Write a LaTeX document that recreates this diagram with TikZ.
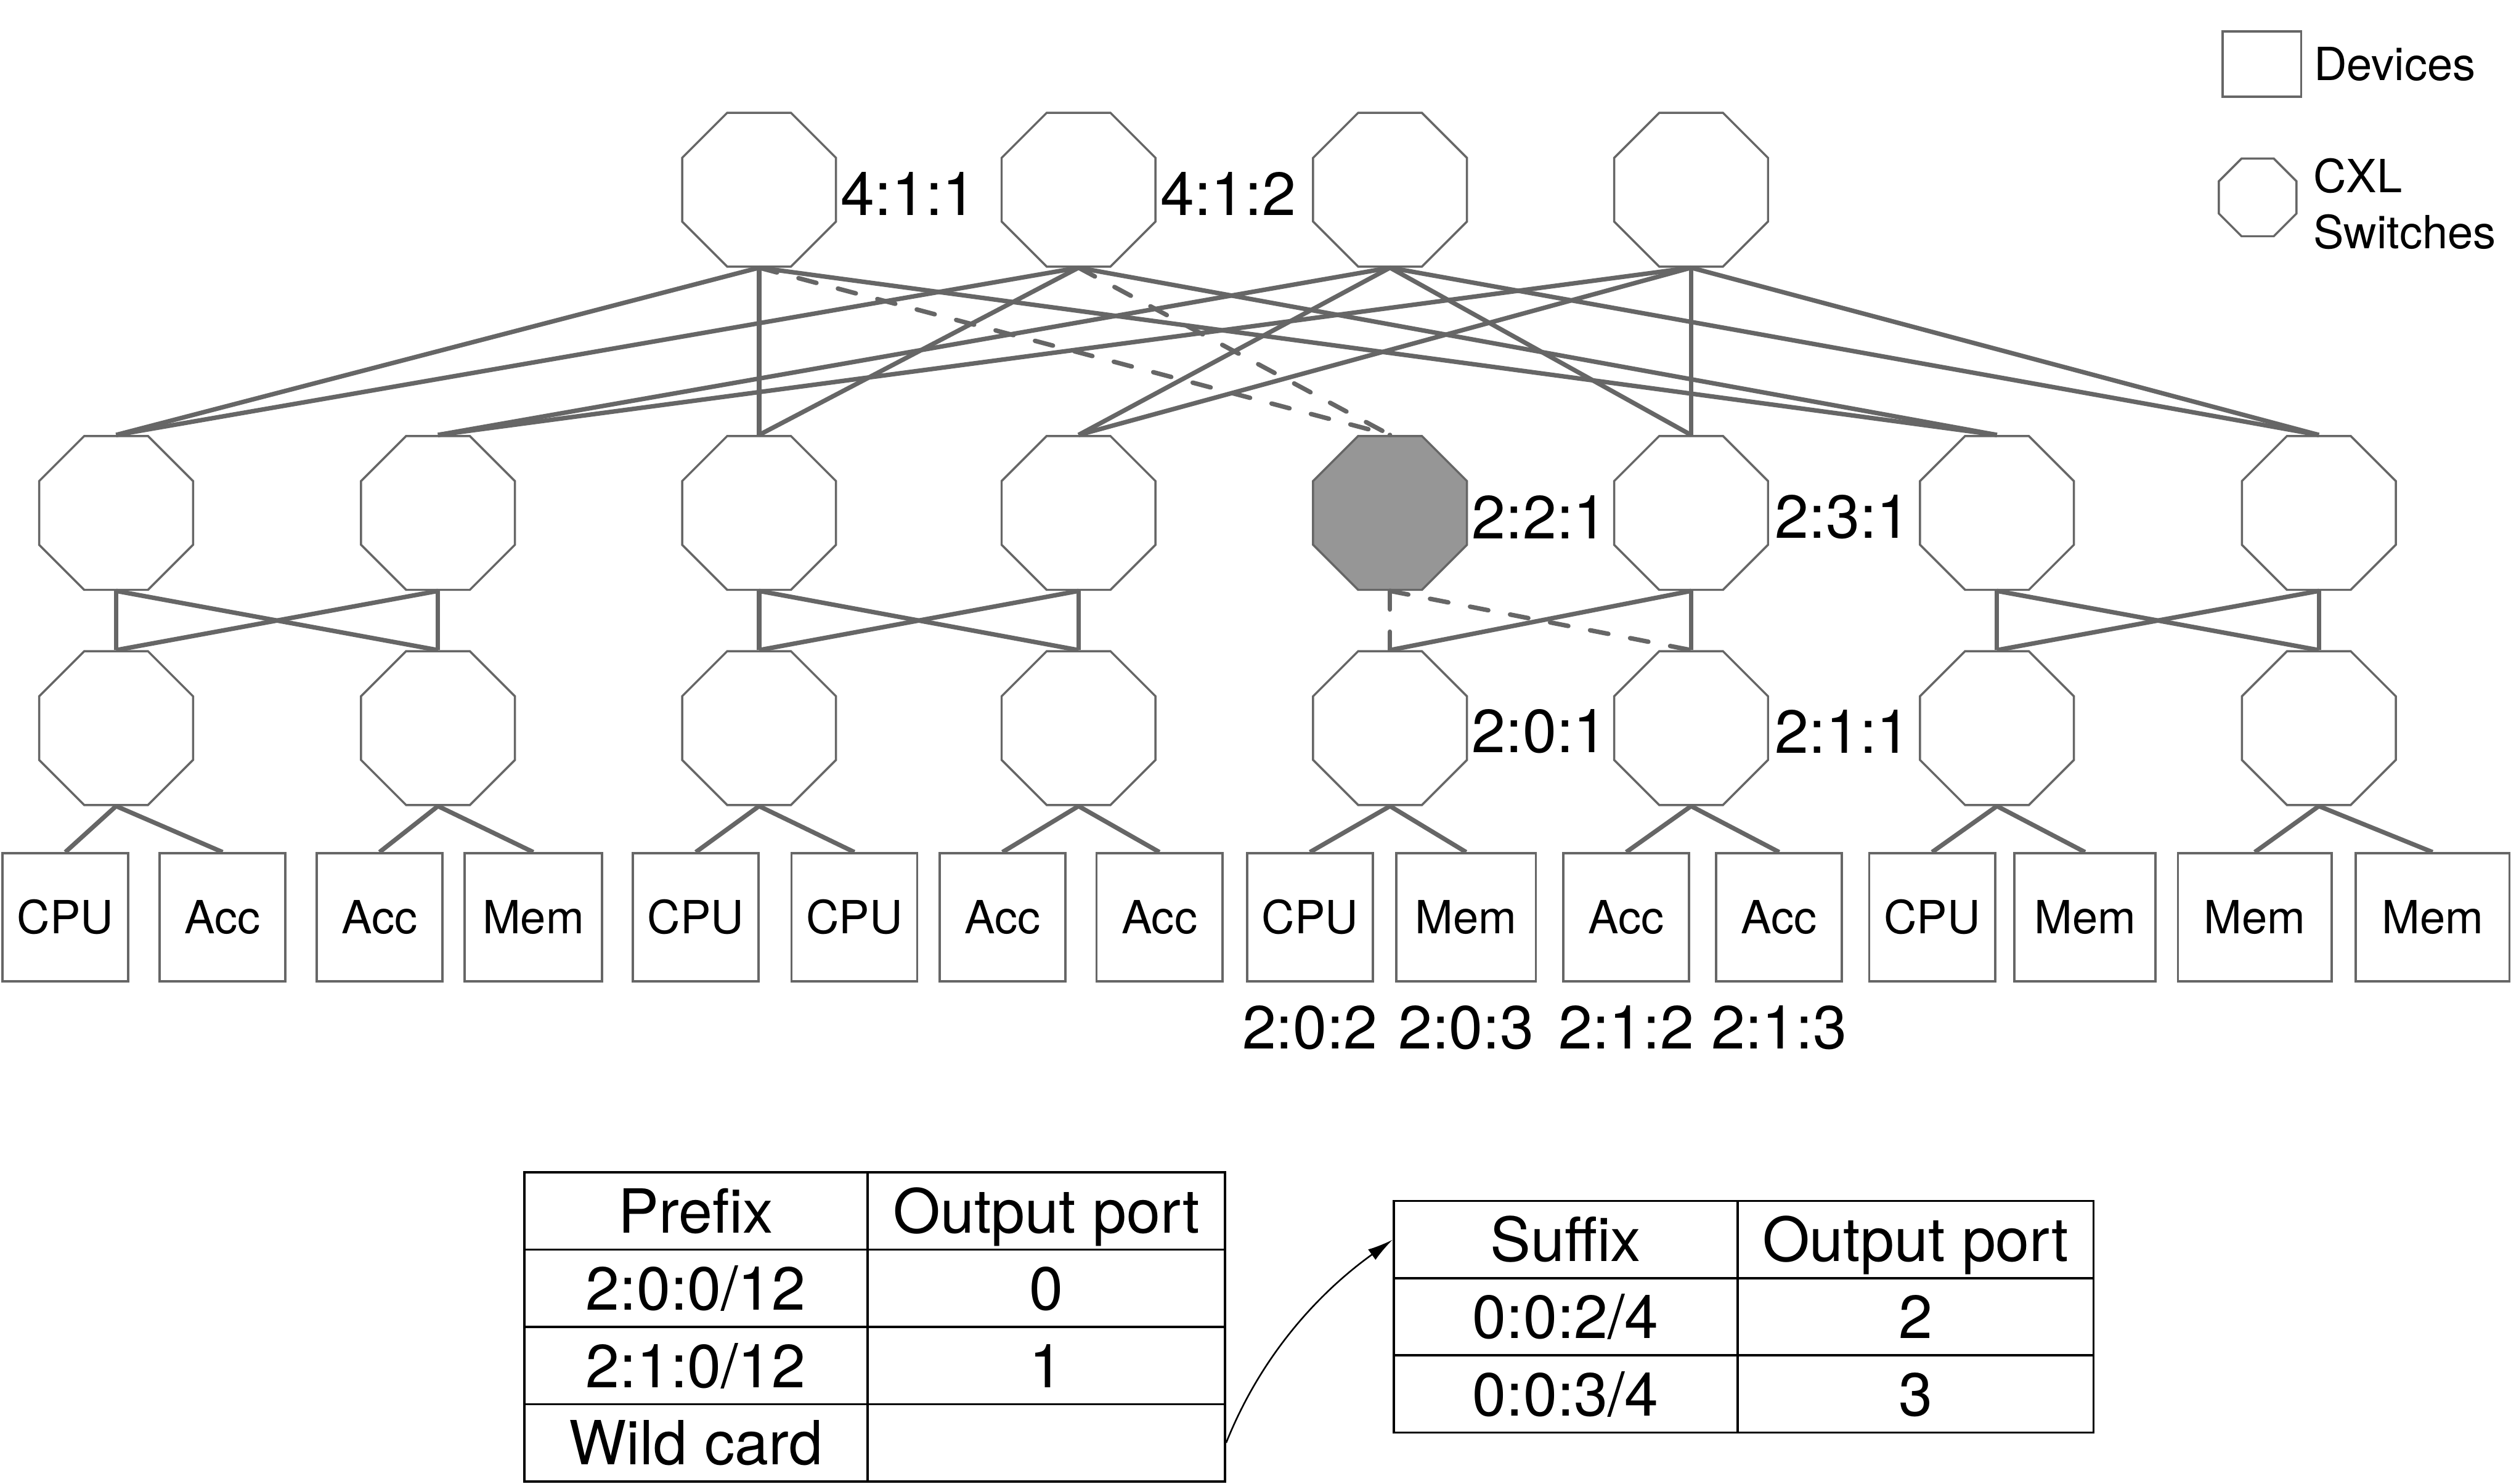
\documentclass[tikz,border=0pt]{standalone}
\usepackage{fontspec}
\setmainfont{TeX Gyre Heros}
\usetikzlibrary{shapes.geometric,arrows.meta,positioning}

\definecolor{linegray}{RGB}{102,102,102}
\definecolor{fillgray}{RGB}{150,150,150}

\tikzset{every picture/.style={line width=0.75pt}}
\tikzset{
  switch/.style={draw=linegray, line width=1pt, regular polygon, regular polygon sides=8, minimum size=78pt, inner sep=0pt},
  device/.style={draw=linegray, line width=1.1pt, minimum height=60pt, inner sep=0pt, text height=15.4pt, text depth=0pt, font=\fontsize{21.4}{25}\selectfont},
  link/.style={draw=linegray, line width=2.1pt},
  route/.style={link, dash pattern=on 8.7pt off 10.4pt, line cap=round},
  addr/.style={inner sep=1.5pt, font=\fontsize{28.5}{34}\selectfont},
  cell/.style={draw=black, line width=1pt, minimum height=36.2pt, inner sep=0pt, text height=20.5pt, text depth=0pt, font=\fontsize{28.5}{34}\selectfont},
}

\begin{document}
\begin{tikzpicture}[x=0.75pt,y=0.75pt,yscale=-1,xscale=1]
\path[fill=white] (0,0) rectangle (1568,926.6);
\useasboundingbox (0,0) rectangle (1568,926.6);

%Shape: core switches
\foreach \x [count=\i] in {474,673.5,868,1056}
  \node[switch] (t\i) at (\x,118.5) {};

%Shape: aggregation and edge switches
\foreach \x/\f [count=\i from 0] in {72.5/white,273.5/white,474/white,673.5/white,868/fillgray,1056/white,1247/white,1448/white} {
  \node[switch, fill=\f] (a\i) at (\x,320.4) {};
  \node[switch] (e\i) at (\x,454.8) {};
}

%Shape: devices
\foreach \x/\w/\t [count=\i from 0] in {40.8/58.9/CPU,139/58.9/Acc,237/58.9/Acc,333/64.5/Mem,434.5/58.9/CPU,533.5/58.9/CPU,626/58.9/Acc,724/58.9/Acc,818/58.9/CPU,915.5/65.3/Mem,1015.5/58.9/Acc,1111/58.9/Acc,1206.5/58.9/CPU,1302/66/Mem,1408/72/Mem,1519/72/Mem}
  \node[device, minimum width=\w pt] (d\i) at (\x,573) {\t};

%Straight Lines: core to aggregation
\foreach \c in {1,2} {
  \foreach \a in {0,2,6}
    \draw[link] (t\c.south) -- (a\a.north);
  \draw[route] (t\c.south) -- (a4.north);
}
\foreach \c in {3,4}
  \foreach \a in {1,3,5,7}
    \draw[link] (t\c.south) -- (a\a.north);

%Straight Lines: aggregation to edge
\foreach \p/\q in {0/1,2/3,6/7} {
  \draw[link] (a\p.south) -- (e\p.north);
  \draw[link] (a\p.south) -- (e\q.north);
  \draw[link] (a\q.south) -- (e\p.north);
  \draw[link] (a\q.south) -- (e\q.north);
}
\draw[route] (a4.south) -- (e4.north);
\draw[route] (a4.south) -- (e5.north);
\draw[link] (a5.south) -- (e4.north);
\draw[link] (a5.south) -- (e5.north);

%Straight Lines: edge to devices
\foreach \i in {0,...,7} {
  \pgfmathtruncatemacro\j{2*\i}
  \pgfmathtruncatemacro\k{2*\i+1}
  \draw[link] (e\i.south) -- (d\j.north);
  \draw[link] (e\i.south) -- (d\k.north);
}

% Text Node
\node[addr, right=0pt of t1, yshift=-2pt] (l411) {4:1:1};
\node[addr, right=0pt of t2, yshift=-2pt] (l412) {4:1:2};
\node[addr, right=0pt of a4, yshift=-2pt] (l221) {2:2:1};
\node[addr, right=1pt of a5, yshift=-2pt] (l231) {2:3:1};
\node[addr, right=0pt of e4, yshift=-1.5pt] (l201) {2:0:1};
\node[addr, right=1pt of e5, yshift=-1.5pt] (l211) {2:1:1};
\node[addr, below=9pt of d8] (l202) {2:0:2};
\node[addr, below=9pt of d9] (l203) {2:0:3};
\node[addr, below=9pt of d10] (l212) {2:1:2};
\node[addr, below=9pt of d11] (l213) {2:1:3};

%Shape: legend
\node[draw=linegray, line width=1.1pt, minimum width=36.75pt, minimum height=30.5pt, inner sep=0pt] (lgdev) at (1412.5,40) {};
\node[right=3.5pt of lgdev, inner sep=1.5pt, font=\fontsize{21.4}{25}\selectfont] (lgdevt) {Devices};
\node[switch, minimum size=39.4pt] (lgsw) at (1409.8,123.3) {};
\node[right=5.5pt of lgsw, yshift=-3pt, inner sep=1.5pt, align=left, font=\fontsize{21.4}{26.1}\selectfont] (lgswt) {CXL\\Switches};

%Shape: prefix table
\foreach \y/\a/\b [count=\i from 0] in {756.45/Prefix/Output port,804.75/{2:0:0/12}/0,853/{2:1:0/12}/1,901.2/Wild card/{}} {
  \node[cell, minimum width=160.7pt] (pfx\i) at (434.55,\y) {\a};
  \node[cell, minimum width=167.5pt] (pport\i) at (653.35,\y) {\b};
}

%Shape: suffix table
\foreach \y/\a/\b [count=\i from 0] in {774.35/Suffix/Output port,822.45/{0:0:2/4}/2,870.75/{0:0:3/4}/3} {
  \node[cell, minimum width=161pt] (sfx\i) at (977.65,\y) {\a};
  \node[cell, minimum width=166.7pt] (sport\i) at (1196.15,\y) {\b};
}

%Curve Lines
\draw[-{Latex[length=12pt,width=6pt]}, line width=0.75pt] (pport3.east) .. controls +(22,-55) and +(-46,33) .. (sfx0.west);

\end{tikzpicture}
\end{document}
